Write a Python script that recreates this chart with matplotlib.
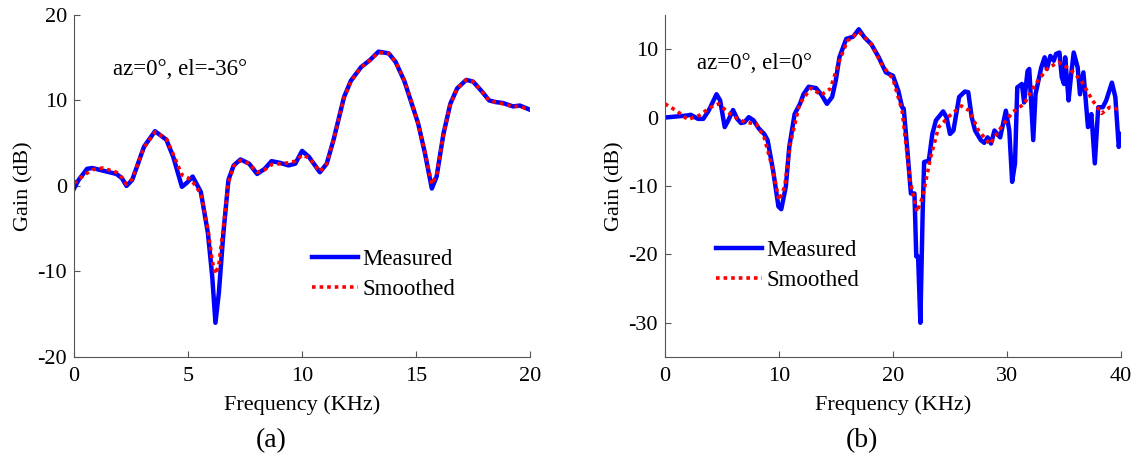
import matplotlib
matplotlib.use("Agg")
import matplotlib.pyplot as plt

plt.rcParams["font.family"] = ["Liberation Serif", "DejaVu Serif"]
plt.rcParams["axes.unicode_minus"] = False

# --- (a) az=0, el=-36 ---
freq_a = [0, 0.2, 0.57, 0.8, 1.25, 1.86, 2.1, 2.3, 2.55, 3.07, 3.55, 4.05, 4.35, 4.73,
          4.96, 5.2, 5.56, 5.87, 6.06, 6.2, 6.35, 6.55, 6.77, 7.0, 7.3, 7.68, 8.03,
          8.36, 8.66, 9.04, 9.4, 9.7, 10.0, 10.3, 10.78, 11.08, 11.38, 11.84, 12.14,
          12.59, 12.97, 13.35, 13.8, 14.1, 14.48, 14.86, 15.09, 15.39, 15.69, 15.9,
          16.2, 16.5, 16.8, 17.2, 17.5, 17.9, 18.2, 18.5, 18.8, 19.25, 19.55, 20.0]
meas_a = [-0.3, 0.7, 2.0, 2.1, 1.8, 1.4, 0.9, 0.0, 0.7, 4.6, 6.4, 5.4, 3.4, -0.1,
          0.4, 1.1, -0.7, -5.5, -10.6, -16.0, -12.5, -5.5, 0.7, 2.4, 3.1, 2.6, 1.4,
          2.0, 2.9, 2.7, 2.4, 2.6, 4.1, 3.4, 1.6, 2.6, 5.4, 10.4, 12.3,
          13.9, 14.7, 15.7, 15.5, 14.5, 12.3, 9.2, 7.3, 3.8, -0.3, 1.1,
          6.1, 9.6, 11.4, 12.4, 12.2, 11.0, 10.0, 9.8, 9.7, 9.3, 9.4, 8.9]
smooth_a = [0.3, 0.8, 1.5, 1.9, 2.1, 1.6, 1.0, 0.2, 0.8, 4.5, 6.3, 5.5, 3.7, 1.3,
            1.0, 0.5, -0.9, -5.0, -8.8, -10.3, -9.2, -4.8, 0.4, 2.3, 3.0, 2.6, 1.6,
            1.9, 2.5, 2.6, 2.7, 2.9, 3.6, 3.3, 1.7, 2.6, 5.4, 10.3, 12.2,
            13.9, 14.7, 15.6, 15.5, 14.5, 12.4, 9.3, 7.3, 3.9, 0.2, 1.3,
            6.0, 9.5, 11.4, 12.4, 12.2, 11.0, 10.0, 9.8, 9.6, 9.3, 9.3, 8.9]

# --- (b) az=0, el=0 ---
freq_b = [0, 1.0, 1.95, 2.26, 2.9, 3.36, 3.83, 4.52, 4.84, 5.24, 5.56, 5.97, 6.34,
          6.66, 6.97, 7.35, 7.76, 8.23, 8.7, 9.0, 9.48, 9.95, 10.2, 10.6, 10.9,
          11.37, 11.84, 12.15, 12.6, 13.25, 13.7, 14.2, 14.66, 14.98, 15.3, 15.9,
          16.5, 17.0, 17.5, 18.1, 18.75, 19.37, 20.0, 20.47, 20.8, 20.94, 21.26,
          21.57, 21.88, 22.04, 22.2, 22.4, 22.6, 22.73, 23.14, 23.45, 23.77, 24.4,
          24.7, 25.0, 25.3, 25.8, 26.3, 26.6, 26.9, 27.2, 27.7, 28.0, 28.3, 28.6,
          28.9, 29.4, 29.9, 30.2, 30.45, 30.7, 30.9, 31.3, 31.5, 31.8, 31.95, 32.3,
          32.5, 33.0, 33.3, 33.5, 33.8, 34.1, 34.3, 34.6, 34.8, 35.0, 35.1, 35.4,
          35.6, 35.85, 36.2, 36.4, 36.7, 37.1, 37.4, 37.7, 38.0, 38.4, 38.7, 39.2,
          39.5, 39.8, 40.0]
meas_b = [0.0, 0.15, 0.3, 0.4, -0.2, -0.2, 1.0, 3.4, 2.5, -1.4, -0.4, 1.1, -0.2,
          -0.8, -0.7, 0.05, -0.4, -1.6, -2.4, -3.3, -7.7, -13.0, -13.4, -10.1, -4.3,
          0.5, 2.0, 3.4, 4.5, 4.3, 3.4, 2.0, 3.0, 5.4, 8.8, 11.5,
          11.8, 12.9, 11.7, 10.7, 8.8, 6.6, 6.1, 3.9, 1.5, 1.3, -4.8,
          -11.1, -11.1, -20.3, -20.3, -30.0, -14.0, -6.5, -6.3, -2.4, -0.4, 0.9,
          0.0, -2.4, -1.9, 3.0, 3.8, 3.7, 0.05, -1.9, -3.3, -3.7, -2.9, -3.8,
          -1.9, -2.9, 1.0, -1.9, -9.4, -6.7, 4.4, 4.9, 2.2, 6.8, 7.1, -3.3,
          3.4, 7.3, 8.8, 7.1, 9.0, 8.3, 9.3, 9.5, 5.9, 4.9, 8.8, 2.5,
          5.9, 9.5, 7.3, 3.4, 6.6, -1.4, 0.5, -6.7, 1.5, 1.5, 2.5, 5.1,
          3.0, -4.3, -2.4]
freq_bs = [0, 1.0, 2.0, 3.0, 4.0, 4.7, 5.5, 6.2, 7.0, 8.0, 8.7, 9.4, 10.0, 10.5,
           11.0, 11.8, 12.8, 13.7, 14.5, 15.3, 16.0, 17.0, 18.0, 19.0, 20.0, 20.8,
           21.5, 22.1, 22.6, 23.3, 24.0, 25.0, 26.0, 26.7, 27.5, 28.5, 29.5, 30.5,
           31.5, 32.5, 33.5, 34.5, 35.5, 36.5, 37.5, 38.3, 39.0, 40.0]
smooth_b = [2.0, 1.0, -0.3, 0.3, 1.5, 2.0, 0.8, 0.0, -0.7, -0.9, -2.9, -7.2, -12.1,
            -10.1, -3.8, 2.0, 4.3, 3.3, 4.2, 8.3, 11.2, 12.5, 11.0, 7.8, 5.6, 1.0,
            -9.2, -13.8, -11.6, -5.8, -1.4, 0.3, 1.7, 1.0, -1.9, -3.9, -1.4, 0.8,
            2.0, 4.9, 7.1, 8.1, 7.1, 5.4, 2.5, 0.6, 1.5, 1.1]

fig = plt.figure(figsize=(11.41, 4.58), dpi=100)
ax_a = fig.add_axes([0.0649, 0.2205, 0.3997, 0.747])
ax_b = fig.add_axes([0.5828, 0.2205, 0.3997, 0.747])

panels = [
    (ax_a, freq_a, meas_a, freq_a, smooth_a, (0, 20), (-20, 20), [0, 5, 10, 15, 20],
     [-20, -10, 0, 10, 20], "az=0°, el=-36°", (0.086, 0.839), (0.522, 0.241)),
    (ax_b, freq_b, meas_b, freq_bs, smooth_b, (0, 40), (-35, 15), [0, 10, 20, 30, 40],
     [-30, -20, -10, 0, 10], "az=0°, el=0°", (0.07, 0.857), (0.112, 0.268)),
]

for ax, fx, my, sx, sy, xl, yl, xt, yt, note, note_pos, leg_pos in panels:
    ax.plot(fx, my, color="#0000ff", lw=3.2, label="Measured")
    ax.plot(sx, sy, color="#ff0000", lw=2.6, linestyle=(0, (1, 1.1)), label="Smoothed")
    ax.set_xlim(*xl)
    ax.set_ylim(*yl)
    ax.set_xticks(xt)
    ax.set_yticks(yt)
    ax.spines["top"].set_visible(False)
    ax.spines["right"].set_visible(False)
    for s in ("left", "bottom"):
        ax.spines[s].set_color("#555555")
    ax.tick_params(direction="in", length=4, labelsize=16, colors="#555555",
                   labelcolor="black")
    ax.tick_params(axis="x", pad=7)
    ax.tick_params(axis="y", pad=5)
    ax.set_xlabel("Frequency (KHz)", fontsize=16, labelpad=7)
    ax.set_ylabel("Gain (dB)", fontsize=16, labelpad=3)
    ax.text(note_pos[0], note_pos[1], note, transform=ax.transAxes, fontsize=16.5,
            va="center", ha="left")
    ax.legend(loc="center left", bbox_to_anchor=leg_pos, frameon=False, fontsize=16.5,
              handlelength=2.0, handletextpad=0.2, labelspacing=0.4, borderpad=0,
              borderaxespad=0)

# subfigure captions
fig.text(271 / 1141, 1 - 441 / 458, "(a)", fontsize=20, ha="center", va="center")
fig.text(862 / 1141, 1 - 441 / 458, "(b)", fontsize=20, ha="center", va="center")

fig.savefig("out.png", dpi=100)
